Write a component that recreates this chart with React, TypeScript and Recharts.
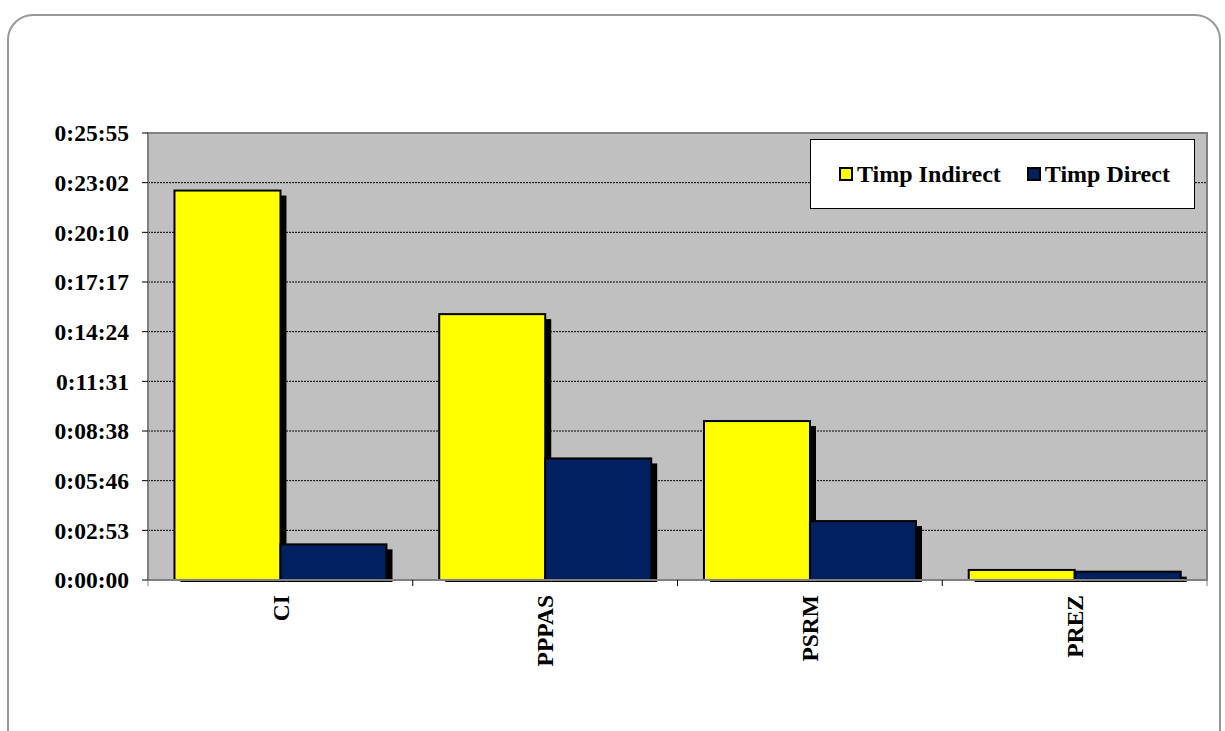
import React from "react";
import {
  BarChart,
  Bar,
  XAxis,
  YAxis,
  CartesianGrid,
  ReferenceArea,
  Legend,
} from "recharts";

// durations in seconds
const categories = ["CI", "PPPAS", "PSRM", "PREZ"];
const timpIndirect = [1355, 925, 553, 35];
const timpDirect = [124, 423, 205, 29];
const yTicks = [0, 172.8, 345.6, 518.4, 691.2, 864, 1036.8, 1209.6, 1382.4, 1555.2];

const SERIES = [
  { key: "indirect", name: "Timp Indirect", color: "#FFFF00" },
  { key: "direct", name: "Timp Direct", color: "#002060" },
];

const data = categories.map((name, i) => ({
  name,
  indirect: timpIndirect[i],
  direct: timpDirect[i],
}));

const FONT = "Liberation Serif";

const fmtTime = (v: number) => {
  const s = Math.round(v);
  const h = Math.floor(s / 3600);
  const m = Math.floor((s % 3600) / 60);
  const sec = s % 60;
  return `${h}:${String(m).padStart(2, "0")}:${String(sec).padStart(2, "0")}`;
};

// bar with the hard black drop shadow
const ShadowBar = (props: any) => {
  const { x, y, width, height, fill } = props;
  if (!height || height <= 0) return null;
  return (
    <g>
      <rect
        x={x + 6}
        y={y + 5}
        width={width}
        height={Math.max(height - 3, 0)}
        fill="#000"
      />
      <rect
        x={x}
        y={y}
        width={width}
        height={height}
        fill={fill}
        stroke="#000"
        strokeWidth={2}
      />
    </g>
  );
};

const CategoryTick = (props: any) => {
  const { x, y, payload, index } = props;
  const half = payload?.offset ?? 132;
  const axisY = y - 15;
  return (
    <g>
      <line
        x1={x - half}
        x2={x - half}
        y1={axisY}
        y2={axisY + 6}
        stroke={index === 0 ? "#808080" : "#000"}
      />
      {index === categories.length - 1 && (
        <line x1={x + half} x2={x + half} y1={axisY} y2={axisY + 6} stroke="#808080" />
      )}
      <text
        x={x}
        y={y}
        transform={`rotate(-90, ${x}, ${y})`}
        textAnchor="end"
        dy="0.35em"
        fontFamily={FONT}
        fontWeight="bold"
        fontSize={23.5}
        fill="#000"
      >
        {payload.value}
      </text>
    </g>
  );
};

const renderLegend = () => (
  <div
    style={{
      width: 385,
      height: 70,
      background: "#fff",
      border: "1px solid #000",
      display: "flex",
      alignItems: "center",
      fontFamily: FONT,
      fontWeight: "bold",
      fontSize: 24,
      color: "#000",
      boxSizing: "border-box",
      paddingLeft: 28,
    }}
  >
    {SERIES.map((s, i) => (
      <div
        key={s.key}
        style={{ display: "flex", alignItems: "center", marginRight: i === 0 ? 26 : 0 }}
      >
        <span
          style={{
            display: "inline-block",
            width: 10,
            height: 10,
            background: s.color,
            border: "2px solid #000",
            marginRight: 4,
          }}
        />
        <span>{s.name}</span>
      </div>
    ))}
  </div>
);

export default function App() {
  return (
    <div
      style={{
        position: "absolute",
        left: 0,
        top: 0,
        width: 1225,
        height: 731,
        overflow: "hidden",
        background: "#fff",
      }}
    >
      <div
        style={{
          position: "absolute",
          left: 7,
          top: 14,
          width: 1214,
          height: 760,
          border: "2px solid #999",
          borderRadius: 26,
          boxSizing: "border-box",
        }}
      />
      <div style={{ position: "absolute", left: 0, top: 0 }}>
        <BarChart
          width={1225}
          height={731}
          data={data}
          margin={{ top: 133, right: 18, bottom: 51, left: 8 }}
          barCategoryGap="10%"
          barGap={0}
        >
          <CartesianGrid
            vertical={false}
            fill="#C0C0C0"
            stroke="#000"
            strokeDasharray="2 1"
          />
          <ReferenceArea
            y1={0}
            y2={1555.2}
            fill="none"
            stroke="#808080"
            strokeWidth={2}
          />
          <XAxis
            dataKey="name"
            height={100}
            interval={0}
            axisLine={{ stroke: "#808080", strokeWidth: 2 }}
            tickLine={false}
            tickSize={0}
            tickMargin={15}
            tick={<CategoryTick />}
          />
          <YAxis
            width={140}
            domain={[0, 1555.2]}
            ticks={yTicks}
            tickFormatter={fmtTime}
            axisLine={{ stroke: "#808080", strokeWidth: 2 }}
            tickLine={{ stroke: "#000" }}
            tickSize={6}
            tickMargin={13}
            tick={{
              fill: "#000",
              fontFamily: FONT,
              fontWeight: "bold",
              fontSize: 23.5,
            }}
          />
          <Legend
            layout="horizontal"
            verticalAlign="middle"
            align="center"
            content={renderLegend}
            wrapperStyle={{ position: "absolute", left: 810, top: 139, width: 385 }}
          />
          {SERIES.map((s) => (
            <Bar
              key={s.key}
              dataKey={s.key}
              name={s.name}
              fill={s.color}
              shape={<ShadowBar />}
              isAnimationActive={false}
            />
          ))}
        </BarChart>
      </div>
    </div>
  );
}
